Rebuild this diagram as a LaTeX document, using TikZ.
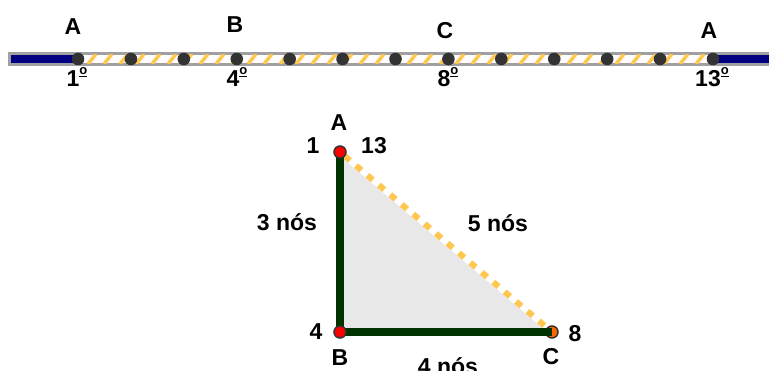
\documentclass[tikz,border=0pt]{standalone}
\usepackage{fontspec}
\setmainfont{Liberation Sans}
\definecolor{navy}{RGB}{0,0,128}
\definecolor{bargray}{RGB}{160,160,160}
\definecolor{stripe}{RGB}{255,198,80}
\definecolor{dotc}{RGB}{51,51,51}
\definecolor{dgreen}{RGB}{0,51,0}
\definecolor{tri}{RGB}{232,232,232}
\definecolor{cor}{RGB}{255,102,0}
\newcommand\ordm{\makebox[8pt][c]{\raisebox{11.5pt}{\fontsize{13}{13}\selectfont o}}\kern-8pt\raisebox{9.3pt}{\rule{8pt}{1.6pt}}}
\begin{document}
\begin{tikzpicture}[x=1pt,y=-1pt,
  lbl/.style={inner sep=0pt,font=\fontsize{23}{27}\selectfont\bfseries},
  bead/.style={circle,fill=dotc,inner sep=0pt,minimum size=12.6pt},
  vpt/.style={circle,draw=dotc,line width=1.5pt,inner sep=0pt,minimum size=12pt},
  leg/.style={dgreen,line width=8.5pt}]
\useasboundingbox (0,0) rectangle (769,371);
\clip (0,0) rectangle (769,371);
% bar
\fill[bargray] (8,52.3) rectangle (769,65.7);
\fill[white] (10.5,54.6) rectangle (769,63.4);
\fill[navy] (10.7,55) rectangle (78,63);
\fill[navy] (713,55) rectangle (769,63);
\begin{scope}
\clip (78,54.6) rectangle (713,63.4);
\foreach \x in {72,88,...,720} \draw[stripe,line width=3.5pt] (\x,64) -- (\x+8,54);
\end{scope}
\foreach \i in {0,...,12} \node[bead] (d\i) at (78+\i*52.917,59) {};
% top labels
\node[lbl] (la1) at (73,27) {A};
\node[lbl] (lb) at (235,25) {B};
\node[lbl] (lc) at (445,31) {C};
\node[lbl] (la2) at (709,31) {A};
\node[lbl,anchor=base] (o1) at (77,86.5) {1\ordm};
\node[lbl,anchor=base] (o4) at (237,86.5) {4\ordm};
\node[lbl,anchor=base] (o8) at (448,86.5) {8\ordm};
\node[lbl,anchor=base] (o13) at (712,86.5) {13\ordm};
% triangle
\coordinate (A) at (340,152);
\coordinate (B) at (340,332);
\coordinate (C) at (552,332);
\fill[tri] (A) -- (B) -- (C) -- cycle;
\draw[gray!70,line width=0.6pt] (A) -- (C);
\begin{scope}[shift={(2.5,-3)}]
\draw[white,line width=6pt] (A) -- (C);
\draw[stripe,line width=6pt,dash pattern=on 7pt off 8pt,dash phase=-6pt] (A) -- (C);
\end{scope}
\node[vpt,fill=cor] (pC) at (C) {};
\draw[leg] (A) -- (B);
\draw[leg] (B) -- (C);
\node[vpt,fill=red] (pA) at (A) {};
\node[vpt,fill=red] (pB) at (B) {};
% triangle labels
\node[lbl] (tA) at (339,123) {A};
\node[lbl] (t1) at (313,146) {1};
\node[lbl] (t13) at (374,146) {13};
\node[lbl] (t3) at (287,222) {3 nós};
\node[lbl] (t5) at (498,223) {5 nós};
\node[lbl] (t4) at (316,332) {4};
\node[lbl] (tB) at (340,358) {B};
\node[lbl] (tC) at (551,357) {C};
\node[lbl] (t8) at (575,334) {8};
\node[lbl] (t4n) at (448,366) {4 nós};
\end{tikzpicture}
\end{document}
